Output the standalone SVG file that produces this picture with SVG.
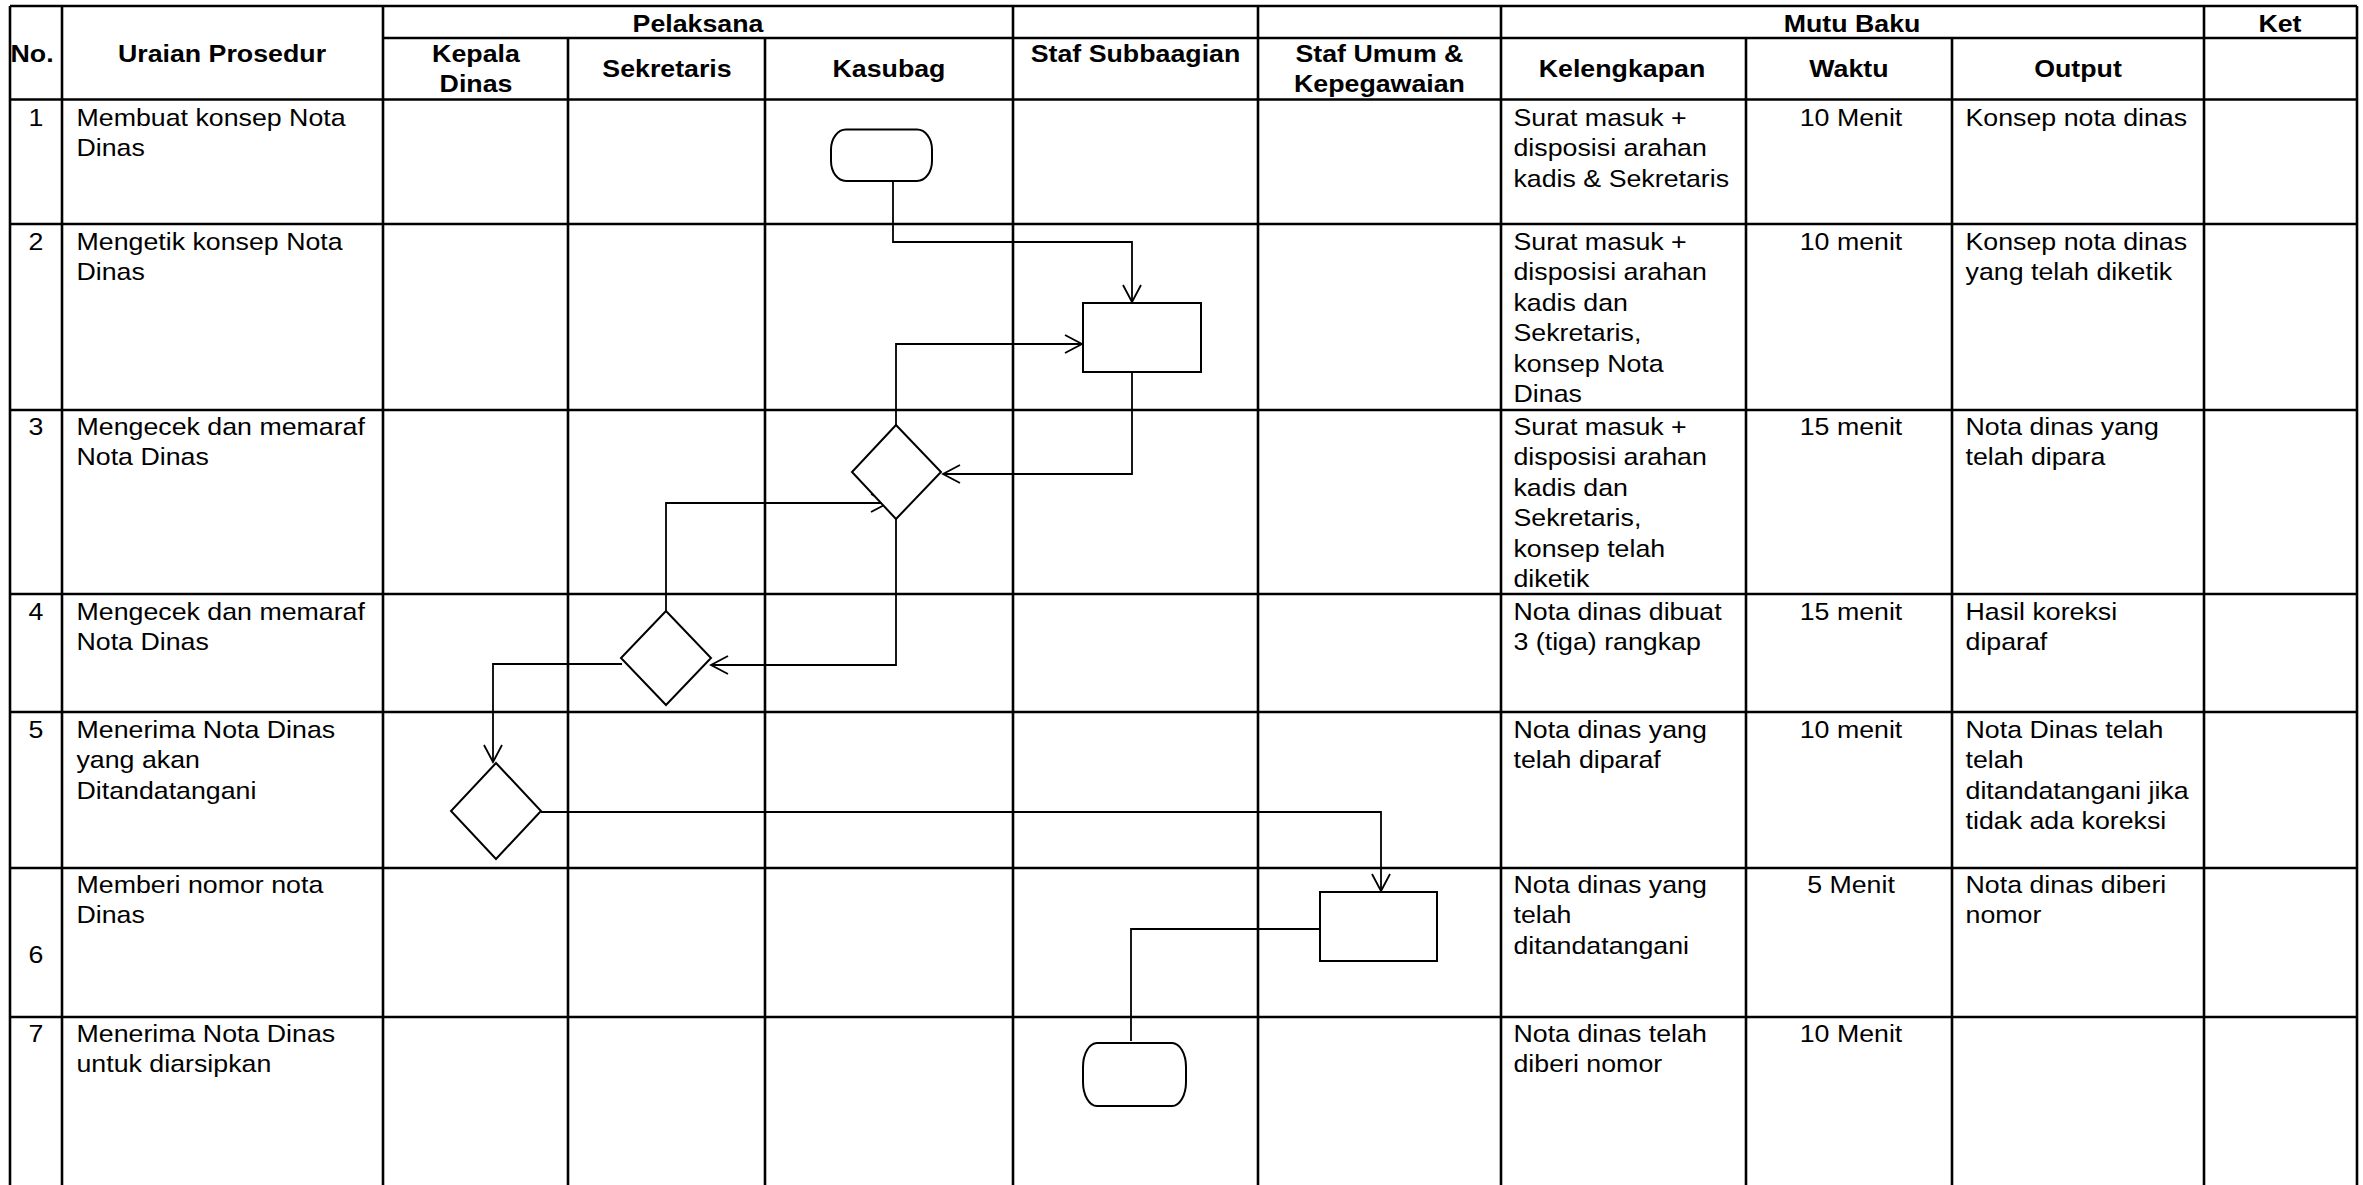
<svg xmlns="http://www.w3.org/2000/svg" width="2363" height="1185" viewBox="0 0 2363 1185">
<style>
.grid line{stroke:#000;stroke-width:2.6}
.shape{fill:#fff;stroke:#000;stroke-width:2}
.conn{fill:none;stroke:#000;stroke-width:1.8}
text{font-family:"Liberation Sans",Arial,sans-serif;font-size:24px;fill:#000}
.b{font-weight:bold}
.m{text-anchor:middle}
</style>
<defs>
<marker id="arr" markerUnits="userSpaceOnUse" markerWidth="22" markerHeight="22" refX="18" refY="10" orient="auto">
<path d="M1,1 L18,10 L1,19" fill="none" stroke="#000" stroke-width="1.8"/>
</marker>
</defs>
<rect width="2363" height="1185" fill="#fff"/>
<g id="grid" class="grid">
<line x1="10" y1="6" x2="2357" y2="6"/>
<line x1="383" y1="38" x2="2357" y2="38"/>
<line x1="10" y1="99.5" x2="2357" y2="99.5"/>
<line x1="10" y1="224" x2="2357" y2="224"/>
<line x1="10" y1="410" x2="2357" y2="410"/>
<line x1="10" y1="594" x2="2357" y2="594"/>
<line x1="10" y1="712" x2="2357" y2="712"/>
<line x1="10" y1="868" x2="2357" y2="868"/>
<line x1="10" y1="1017" x2="2357" y2="1017"/>
<line x1="10" y1="6" x2="10" y2="1185"/>
<line x1="62" y1="6" x2="62" y2="1185"/>
<line x1="383" y1="6" x2="383" y2="1185"/>
<line x1="568" y1="38" x2="568" y2="1185"/>
<line x1="765" y1="38" x2="765" y2="1185"/>
<line x1="1013" y1="6" x2="1013" y2="1185"/>
<line x1="1258" y1="6" x2="1258" y2="1185"/>
<line x1="1501" y1="6" x2="1501" y2="1185"/>
<line x1="1746" y1="38" x2="1746" y2="1185"/>
<line x1="1952" y1="38" x2="1952" y2="1185"/>
<line x1="2204" y1="6" x2="2204" y2="1185"/>
<line x1="2357" y1="6" x2="2357" y2="1185"/>
</g>
<g id="texts" transform="scale(1.115,1)">
<g id="header">
<text class="b" x="9.4" y="62">No.</text>
<text class="b m" x="199.1" y="62">Uraian Prosedur</text>
<text class="b m" x="626" y="32">Pelaksana</text>
<text class="b m" x="1661" y="32">Mutu Baku</text>
<text class="b m" x="2044.8" y="32">Ket</text>
<text class="b m" x="426.9" y="62">Kepala</text>
<text class="b m" x="426.9" y="92">Dinas</text>
<text class="b m" x="598.2" y="77">Sekretaris</text>
<text class="b m" x="797.3" y="77">Kasubag</text>
<text class="b m" x="1018.4" y="62">Staf Subbaagian</text>
<text class="b m" x="1237.2" y="62">Staf Umum &amp;</text>
<text class="b m" x="1237.2" y="92">Kepegawaian</text>
<text class="b m" x="1454.7" y="77">Kelengkapan</text>
<text class="b m" x="1658.3" y="77">Waktu</text>
<text class="b m" x="1863.7" y="77">Output</text>
</g>
<g id="row1">
<text class="m" x="32.3" y="126">1</text>
<text x="68.6" y="126">Membuat konsep Nota</text>
<text x="68.6" y="156.5">Dinas</text>
<text x="1357.4" y="126">Surat masuk +</text>
<text x="1357.4" y="156.5">disposisi arahan</text>
<text x="1357.4" y="187">kadis &amp; Sekretaris</text>
<text class="m" x="1660.1" y="126">10 Menit</text>
<text x="1762.8" y="126">Konsep nota dinas</text>
</g>
<g id="row2">
<text class="m" x="32.3" y="250">2</text>
<text x="68.6" y="250">Mengetik konsep Nota</text>
<text x="68.6" y="280.5">Dinas</text>
<text x="1357.4" y="250">Surat masuk +</text>
<text x="1357.4" y="280.5">disposisi arahan</text>
<text x="1357.4" y="311">kadis dan</text>
<text x="1357.4" y="341.5">Sekretaris,</text>
<text x="1357.4" y="372">konsep Nota</text>
<text x="1357.4" y="402.5">Dinas</text>
<text class="m" x="1660.1" y="250">10 menit</text>
<text x="1762.8" y="250">Konsep nota dinas</text>
<text x="1762.8" y="280.5">yang telah diketik</text>
</g>
<g id="row3">
<text class="m" x="32.3" y="435">3</text>
<text x="68.6" y="435">Mengecek dan memaraf</text>
<text x="68.6" y="465.5">Nota Dinas</text>
<text x="1357.4" y="435">Surat masuk +</text>
<text x="1357.4" y="465.5">disposisi arahan</text>
<text x="1357.4" y="496">kadis dan</text>
<text x="1357.4" y="526.5">Sekretaris,</text>
<text x="1357.4" y="557">konsep telah</text>
<text x="1357.4" y="587.5">diketik</text>
<text class="m" x="1660.1" y="435">15 menit</text>
<text x="1762.8" y="435">Nota dinas yang</text>
<text x="1762.8" y="465.5">telah dipara</text>
</g>
<g id="row4">
<text class="m" x="32.3" y="620">4</text>
<text x="68.6" y="620">Mengecek dan memaraf</text>
<text x="68.6" y="650.5">Nota Dinas</text>
<text x="1357.4" y="620">Nota dinas dibuat</text>
<text x="1357.4" y="650.5">3 (tiga) rangkap</text>
<text class="m" x="1660.1" y="620">15 menit</text>
<text x="1762.8" y="620">Hasil koreksi</text>
<text x="1762.8" y="650.5">diparaf</text>
</g>
<g id="row5">
<text class="m" x="32.3" y="738">5</text>
<text x="68.6" y="738">Menerima Nota Dinas</text>
<text x="68.6" y="768.5">yang akan</text>
<text x="68.6" y="799">Ditandatangani</text>
<text x="1357.4" y="738">Nota dinas yang</text>
<text x="1357.4" y="768.5">telah diparaf</text>
<text class="m" x="1660.1" y="738">10 menit</text>
<text x="1762.8" y="738">Nota Dinas telah</text>
<text x="1762.8" y="768.5">telah</text>
<text x="1762.8" y="799">ditandatangani jika</text>
<text x="1762.8" y="829.5">tidak ada koreksi</text>
</g>
<g id="row6">
<text class="m" x="32.3" y="963">6</text>
<text x="68.6" y="893">Memberi nomor nota</text>
<text x="68.6" y="923.5">Dinas</text>
<text x="1357.4" y="893">Nota dinas yang</text>
<text x="1357.4" y="923.5">telah</text>
<text x="1357.4" y="954">ditandatangani</text>
<text class="m" x="1660.1" y="893">5 Menit</text>
<text x="1762.8" y="893">Nota dinas diberi</text>
<text x="1762.8" y="923.5">nomor</text>
</g>
<g id="row7">
<text class="m" x="32.3" y="1042">7</text>
<text x="68.6" y="1042">Menerima Nota Dinas</text>
<text x="68.6" y="1072.5">untuk diarsipkan</text>
<text x="1357.4" y="1042">Nota dinas telah</text>
<text x="1357.4" y="1072.5">diberi nomor</text>
<text class="m" x="1660.1" y="1042">10 Menit</text>
</g>
</g>
<g id="connectors">
<path class="conn" d="M893,181 V242 H1132 V302" marker-end="url(#arr)"/>
<path class="conn" d="M896,425 V344 H1082" marker-end="url(#arr)"/>
<path class="conn" d="M1132,372 V474 H943" marker-end="url(#arr)"/>
<path class="conn" d="M896,519 V665 H711" marker-end="url(#arr)"/>
<path class="conn" d="M666,611 V503 H888" marker-end="url(#arr)"/>
<path class="conn" d="M622,664 H493 V762" marker-end="url(#arr)"/>
<path class="conn" d="M541,812 H1381 V891" marker-end="url(#arr)"/>
<path class="conn" d="M1320,929 H1131 V1041"/>
</g>
<g id="start1"><rect class="shape" x="831" y="129.5" width="101" height="51.5" rx="15" ry="20"/></g>
<g id="ketik2"><rect class="shape" x="1083" y="303" width="118" height="69"/></g>
<g id="cek3"><polygon class="shape" points="896,425 941,472 896,519 852,472"/></g>
<g id="cek4"><polygon class="shape" points="666,611 711,658 666,705 621,658"/></g>
<g id="terima5"><polygon class="shape" points="496,763 541,811 496,859 451,811"/></g>
<g id="nomor6"><rect class="shape" x="1320" y="892" width="117" height="69"/></g>
<g id="arsip7"><rect class="shape" x="1083" y="1043" width="103" height="63" rx="14" ry="24"/></g>
</svg>
